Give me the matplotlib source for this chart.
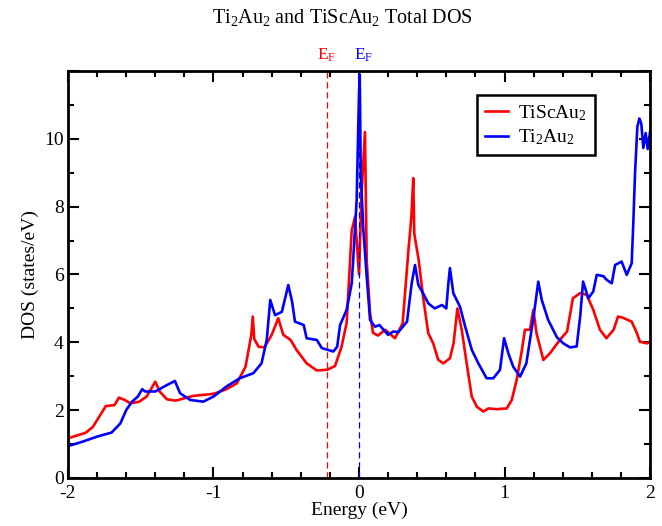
import numpy as np
import matplotlib
matplotlib.use("Agg")
import matplotlib.pyplot as plt
from matplotlib.ticker import MultipleLocator

plt.rcParams['font.family'] = ['Liberation Serif', 'DejaVu Serif']
plt.rcParams['mathtext.fontset'] = 'custom'
plt.rcParams['mathtext.rm'] = 'Liberation Serif'
plt.rcParams['mathtext.it'] = 'Liberation Serif:italic'
plt.rcParams['axes.unicode_minus'] = False

# TiScAu2 total DOS
e_red = [-2.0, -1.88, -1.83, -1.74, -1.68, -1.65, -1.61, -1.57, -1.51, -1.46, -1.40, -1.37,
         -1.32, -1.26, -1.14, -1.0, -0.91, -0.84, -0.78, -0.74, -0.73, -0.72, -0.69, -0.65,
         -0.60, -0.555, -0.52, -0.47, -0.43, -0.36, -0.29, -0.22, -0.165, -0.12, -0.085,
         -0.05, -0.027, 0.0, 0.018, 0.041, 0.053, 0.076, 0.096, 0.13, 0.18, 0.247, 0.30,
         0.34, 0.36, 0.373, 0.38, 0.41, 0.44, 0.476, 0.51, 0.545, 0.58, 0.625, 0.65, 0.676,
         0.706, 0.74, 0.775, 0.81, 0.854, 0.889, 0.946, 1.015, 1.05, 1.084, 1.12, 1.14,
         1.175, 1.198, 1.22, 1.267, 1.313, 1.38, 1.43, 1.47, 1.52, 1.565, 1.61, 1.656, 1.70,
         1.75, 1.78, 1.81, 1.874, 1.91, 1.93, 1.977, 2.0]
dos_red = [1.17, 1.33, 1.5, 2.12, 2.15, 2.37, 2.3, 2.2, 2.25, 2.4, 2.84, 2.55,
           2.32, 2.28, 2.42, 2.48, 2.62, 2.79, 3.28, 4.22, 4.76, 4.1, 3.87, 3.85,
           4.22, 4.71, 4.22, 4.07, 3.78, 3.38, 3.17, 3.19, 3.3, 3.87, 4.57,
           7.3, 7.7, 6.0, 8.4, 10.2, 6.4, 4.86, 4.28, 4.2, 4.37, 4.12, 4.56,
           6.73, 7.7, 8.84, 7.2, 6.43, 5.35, 4.27, 3.97, 3.48, 3.38, 3.53, 3.97, 5.0,
           4.37, 3.38, 2.4, 2.1, 1.96, 2.05, 2.03, 2.05, 2.3, 2.9, 3.78, 4.37,
           4.37, 4.96, 4.27, 3.48, 3.68, 4.07, 4.32, 5.3, 5.45, 5.4, 4.96, 4.37, 4.12,
           4.37, 4.76, 4.73, 4.61, 4.27, 4.02, 3.97, 4.0]

# Ti2Au2 total DOS
e_blue = [-2.0, -1.9, -1.80, -1.70, -1.64, -1.60, -1.56, -1.52, -1.49, -1.47, -1.40, -1.32,
          -1.265, -1.23, -1.16, -1.07, -1.0, -0.91, -0.82, -0.726, -0.67, -0.634, -0.61,
          -0.577, -0.53, -0.486, -0.46, -0.44, -0.38, -0.36, -0.29, -0.256, -0.176, -0.15,
          -0.13, -0.085, -0.05, -0.04, -0.016, 0.0, 0.005, 0.012, 0.03, 0.053, 0.076, 0.11,
          0.14, 0.2, 0.236, 0.27, 0.33, 0.362, 0.385, 0.408, 0.44, 0.476, 0.52, 0.57, 0.6,
          0.614, 0.625, 0.648, 0.694, 0.73, 0.775, 0.82, 0.877, 0.923, 0.969, 0.997, 1.026,
          1.06, 1.107, 1.15, 1.2, 1.232, 1.256, 1.3, 1.36, 1.404, 1.45, 1.496, 1.52, 1.54,
          1.576, 1.61, 1.634, 1.68, 1.7, 1.737, 1.76, 1.805, 1.84, 1.874, 1.885, 1.897,
          1.913, 1.927, 1.94, 1.954, 1.97, 1.984, 2.0]
dos_blue = [0.94, 1.07, 1.22, 1.34, 1.61, 2.0, 2.25, 2.4, 2.62, 2.55, 2.55, 2.74,
            2.86, 2.5, 2.3, 2.25, 2.4, 2.7, 2.94, 3.09, 3.38, 4.07, 5.25,
            4.8, 4.9, 5.69, 5.2, 4.61, 4.51, 4.12, 4.07, 3.83, 3.73, 3.87,
            4.51, 4.96, 5.74, 6.43, 8.2, 11.35, 11.9, 9.0, 7.3, 5.94, 4.66, 4.46,
            4.51, 4.22, 4.32, 4.3, 4.61, 5.74, 6.28, 5.69, 5.45, 5.15, 5.0, 5.1, 5.0,
            5.74, 6.19, 5.45, 5.05, 4.46, 3.78, 3.38, 2.94, 2.94, 3.19, 4.12, 3.68,
            3.28, 2.99, 3.38, 4.76, 5.79, 5.25, 4.66, 4.15, 3.97, 3.85, 3.88, 4.76, 5.79,
            5.3, 5.5, 5.99, 5.95, 5.85, 5.74, 6.28, 6.38, 5.99, 6.33, 7.5, 8.99,
            10.36, 10.6, 10.45, 9.73, 10.17, 9.7, 10.2]

ef_red = -0.22
ef_blue = 0.0
y_ticks = [0, 2, 4, 6, 8, 10, 12]
y_ticklabels = ['0', '2', '4', '6', '8', '10', '']

fig = plt.figure(figsize=(6.62, 5.26), dpi=100)
ax = fig.add_axes([0.1027, 0.0913, 0.8792, 0.7737])

ax.plot(e_red, dos_red, color='#ff0000', lw=1.9, label='TiScAu$_2$')
ax.plot(e_blue, dos_blue, color='#0000ff', lw=1.9, label='Ti$_2$Au$_2$')
ax.axvline(ef_red, color='#ff0000', lw=0.9, ls=(0, (5, 3)))
ax.axvline(ef_blue, color='#0000ff', lw=0.9, ls=(0, (5, 3)))

ax.text(ef_red, 12.2, 'E$_\\mathrm{F}$', color='#ff0000', ha='center', va='bottom', fontsize=12.5)
ax.text(ef_blue + 0.03, 12.2, 'E$_\\mathrm{F}$', color='#0000ff', ha='center', va='bottom', fontsize=12.5)

ax.set_xlim(-2, 2)
ax.set_ylim(0, 12)
ax.xaxis.set_major_locator(MultipleLocator(1))
ax.xaxis.set_minor_locator(MultipleLocator(0.2))
ax.set_yticks(y_ticks)
ax.set_yticklabels(y_ticklabels)
ax.yaxis.set_minor_locator(MultipleLocator(1))
ax.tick_params(which='both', direction='in', top=True, right=True, width=1.5, labelsize=14)
ax.tick_params(which='major', length=8, pad=3)
ax.tick_params(which='minor', length=4)
ax.tick_params(axis='x', which='major', pad=5)
for s in ax.spines.values():
    s.set_linewidth(2)

ax.set_xlabel('Energy (eV)', fontsize=14, labelpad=0)
ax.set_ylabel('DOS (states/eV)', fontsize=14, labelpad=4)
fig.text(0.517, 0.957, 'Ti$_2$Au$_2$ and TiScAu$_2$ Total DOS', fontsize=14.5,
         ha='center', va='baseline')

leg = ax.legend(loc='upper right', bbox_to_anchor=(0.905, 0.94), fontsize=14,
                handlelength=1.2, handletextpad=0.5, fancybox=False, edgecolor='black',
                framealpha=1, borderpad=0.4, labelspacing=0.25, borderaxespad=0)
leg.get_frame().set_linewidth(1.8)

fig.savefig('out.png', dpi=100)
